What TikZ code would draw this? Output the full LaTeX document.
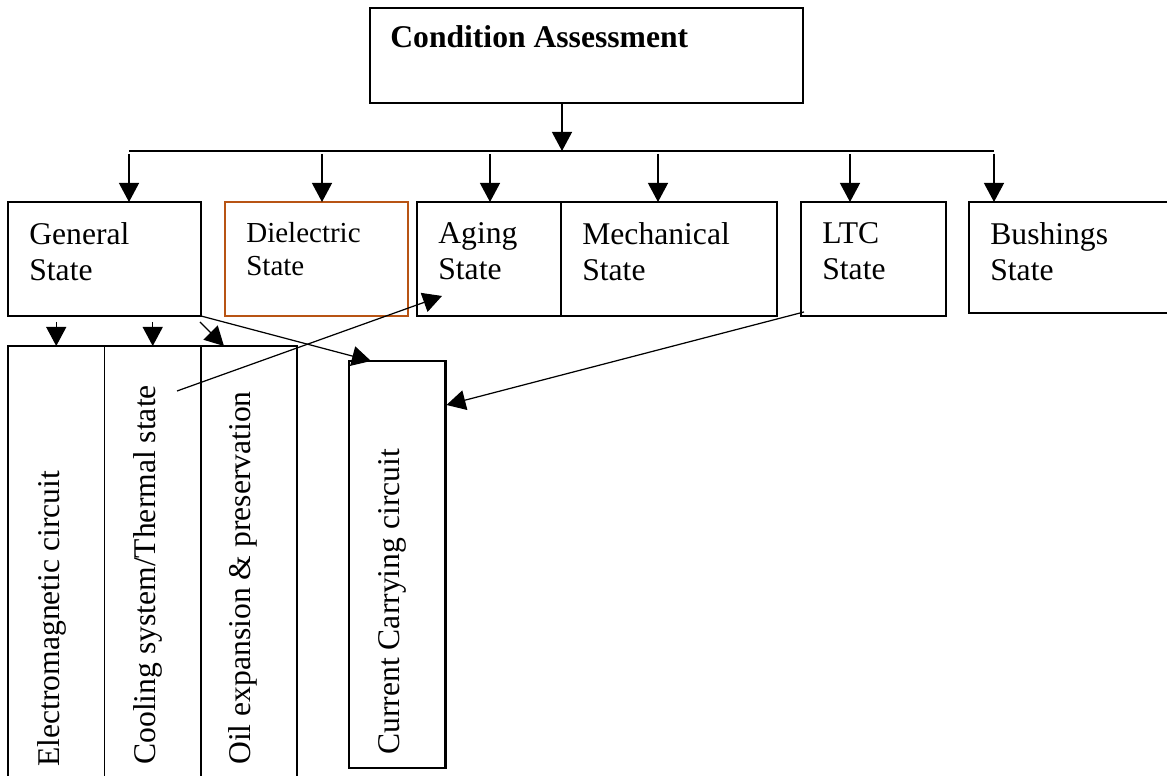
\documentclass[tikz,border=0pt]{standalone}
\usepackage{fontspec}
\setmainfont{Liberation Serif}
\usepackage{tikz}
\usetikzlibrary{arrows.meta,positioning,calc}
\definecolor{dielbrown}{RGB}{184,84,20}

\begin{document}
\begin{tikzpicture}[x=0.02cm,y=-0.02cm,
  box/.style={draw,line width=1.5pt,anchor=north west,inner sep=0pt,outer sep=0pt,minimum height=2.28cm},
  col/.style={draw,line width=1.1pt,anchor=north west,inner sep=0pt,outer sep=0pt,minimum width=1.93cm,minimum height=8.9cm},
  txt/.style={anchor=north west,inner sep=0pt,align=left,font=\fontsize{18}{20.4}\selectfont},
  vtxt/.style={anchor=base west,inner sep=0pt,rotate=90,font=\fontsize{18}{20.4}\selectfont},
  arr/.style={-{Triangle[length=0.38cm,width=0.4cm]},line width=0.7pt}]
\clip (0,0) rectangle (1167,776);
\node[draw,line width=1.1pt,anchor=north west,inner sep=0pt,minimum width=8.66cm,minimum height=1.9cm] (top) at (369,7) {};
\node[txt,font=\bfseries\fontsize{18}{20.4}\selectfont] (top-t) at ($(top.north west)+(21,18)$) {Condition Assessment};
% second level
\node[box,minimum width=3.86cm] (gen) at (8,202) {};
\node[box,draw=dielbrown,minimum width=3.66cm] (diel) at (225,202) {};
\node[box,minimum width=2.88cm] (aging) at (417,202) {};
\node[box,minimum width=4.32cm,right=0pt of aging] (mech) {};
\node[box,minimum width=2.9cm] (ltc) at (801,202) {};
\node[box,minimum width=4.2cm,minimum height=2.22cm] (bush) at (969,202) {};
\foreach \n/\t in {gen/General,aging/Aging,mech/Mechanical,ltc/LTC,bush/Bushings}
  \node[txt] (\n-t) at ($(\n.north west)+(21,20)$) {\t\\State};
\node[txt,font=\fontsize{16.5}{18.7}\selectfont] (diel-t) at ($(diel.north west)+(21,20)$) {Dielectric\\State};
% columns under general state
\node[col] (elec) at (8,346) {};
\node[col,right=0pt of elec] (cool) {};
\node[col,right=0pt of cool] (oil) {};
\node[col,line width=1.3pt,minimum height=8.14cm] (cur) at (349,361) {};
\node[vtxt] (elec-t) at (59.5,767) {Electromagnetic circuit};
\node[vtxt] (cool-t) at (155,765) {Cooling system/Thermal state};
\node[vtxt] (oil-t) at (250.5,765) {Oil expansion \& preservation};
\node[vtxt] (cur-t) at (399,755) {Current Carrying circuit};
% connectors
\coordinate (hub) at (562,151);
\draw[arr] (top.south -| hub) -- (hub);
\foreach \n/\x in {gen/129,diel/322,aging/490,mech/658,ltc/850,bush/994} {
  \coordinate (t\n) at (\x,151);
  \draw[arr] ([yshift=-0.06cm]t\n) -- (t\n |- \n.north);
}
\draw[line width=0.7pt] (tgen) -- (tbush);
\foreach \c in {elec,cool} \draw[arr] ($(gen.south -| \c.north)+(0,6)$) -- (\c.north);
\draw[arr] ($(gen.south east)+(-1,6)$) -- ($(oil.north west)+(23,0)$);
\draw[arr] (gen.south east) -- ($(cur.north west)+(22,0)$);
\coordinate (cs) at (177,391);
\draw[arr] (cs) -- ($(aging.south west)+(25,-20)$);
\draw[arr] ($(ltc.south west)+(3,-4)$) -- ($(cur.north east)+(1,44)$);
\end{tikzpicture}
\end{document}
